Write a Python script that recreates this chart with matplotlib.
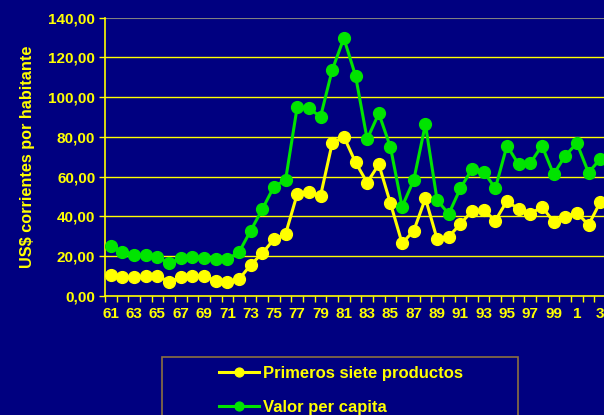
import matplotlib
matplotlib.use('Agg')
import matplotlib.pyplot as plt
from matplotlib.patches import Rectangle
import numpy as np

plt.rcParams['font.family'] = ['Liberation Sans', 'DejaVu Sans']
plt.rcParams['font.weight'] = 'bold'

years = list(range(1961, 2004))
primeros = [10.6, 9.4, 9.4, 10.1, 10.1, 7.2, 9.4, 10.1, 10.1, 7.7,
            7.2, 8.4, 15.6, 21.5, 28.5, 31.2, 51.3, 52.4, 50.4, 76.8,
            80.1, 67.2, 57.0, 66.2, 46.6, 26.5, 32.8, 49.1, 28.7, 29.8,
            36.2, 42.7, 43.2, 37.9, 47.8, 43.6, 41.2, 44.9, 37.4, 39.9,
            41.9, 35.7, 47.1]
valor = [25.1, 22.0, 20.6, 20.6, 19.8, 16.4, 19.3, 19.8, 19.3, 18.6,
         18.6, 22.0, 32.8, 43.6, 55.0, 58.3, 95.2, 94.4, 90.1, 113.6,
         129.6, 110.8, 78.8, 91.8, 74.8, 44.9, 58.3, 86.3, 48.3, 41.2,
         54.1, 63.8, 62.5, 54.1, 75.6, 66.2, 66.7, 75.6, 61.2, 70.5,
         76.8, 62.0, 68.9]
xlabels = [str(y % 100) if y % 2 == 1 else '' for y in years]

navy = '#000080'
yel = '#ffff00'
grn = '#00e400'

fig = plt.figure(figsize=(6.04, 4.15), dpi=100, facecolor=navy)
ax = fig.add_axes([105 / 604, 119 / 415, 501 / 604, 278.5 / 415])
ax.set_facecolor(navy)

x = np.arange(len(years))
ax.plot(x, primeros, color=yel, lw=2.2, marker='o', ms=8.5, label='Primeros siete productos', zorder=3)
ax.plot(x, valor, color=grn, lw=2.2, marker='o', ms=8.5, label='Valor per capita', zorder=3)

ax.set_xlim(-0.5, len(years) - 0.5)
ax.set_ylim(0, 140)
ax.set_yticks(np.arange(0, 141, 20))
ax.set_yticklabels(['%d,00' % v for v in range(0, 141, 20)], color=yel, fontsize=11, fontweight='bold')
ax.set_xticks(x)
ax.set_xticklabels(xlabels, color=yel, fontsize=11, fontweight='bold')
ax.set_xticks(np.arange(-0.5, len(years), 1), minor=True)
ax.tick_params(axis='x', which='major', length=0, pad=8)
ax.tick_params(axis='x', which='minor', length=4, color=yel, width=1)
ax.tick_params(axis='y', length=4, color=yel, width=1, pad=3)

for v in range(20, 121, 20):
    ax.axhline(v, color=yel, lw=1, zorder=1)
ax.axhline(140, color='#808080', lw=1.5, zorder=1)

for s in ['top', 'right']:
    ax.spines[s].set_visible(False)
for s in ['left', 'bottom']:
    ax.spines[s].set_color(yel)
    ax.spines[s].set_linewidth(1.2)

fig.text(28 / 604, 1 - 157 / 415, 'US$ corrientes por habitante', rotation=90,
         color=yel, fontsize=11.7, fontweight='bold', ha='center', va='center')

fig.patches.append(Rectangle((161.7 / 604, -0.05), 356 / 604, 0.05 + 1 - 356.7 / 415,
                             transform=fig.transFigure, fill=False,
                             edgecolor='#8c7040', lw=1.2))
leg = fig.legend(loc='upper left', bbox_to_anchor=(219 / 604, 1 - 366 / 415),
                 frameon=False, fontsize=12, handlelength=2.4, handletextpad=0.22,
                 labelspacing=1.15, borderpad=0, borderaxespad=0, markerscale=0.75)
for t in leg.get_texts():
    t.set_color(yel)
    t.set_fontweight('bold')

fig.savefig('out.png', dpi=100, facecolor=navy)
